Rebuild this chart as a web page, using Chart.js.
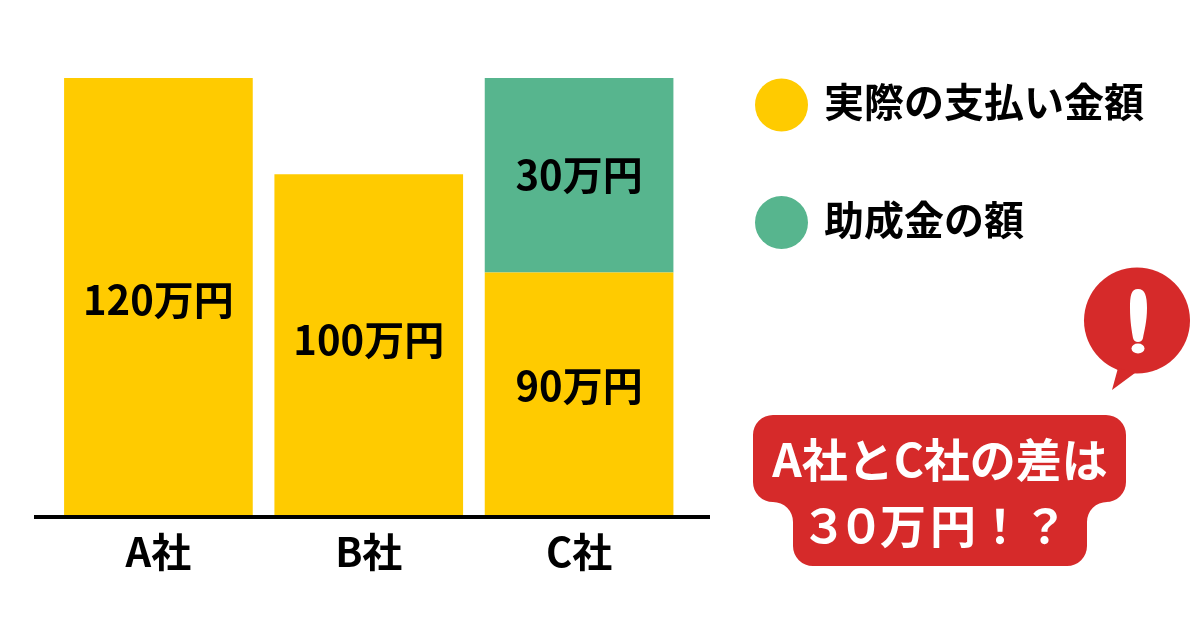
<!DOCTYPE html>
<html><head><meta charset="utf-8">
<style>
html,body{margin:0;padding:0;background:#fff;width:1200px;height:630px;overflow:hidden}
#wrap{position:relative;width:1200px;height:630px}
canvas{position:absolute;left:0;top:0}
</style>
<script src="https://cdn.jsdelivr.net/npm/chart.js@4"></script>
</head><body>
<div id="wrap"><canvas id="c" width="1200" height="630"></canvas></div>
<script>
const categories = ['A社','B社','C社'];
// The reference's bars are not drawn to the scale of their printed labels,
// so bar lengths are read from the picture (A = 120 units) and labels are kept separately.
const paidValues = [120,93.6,66.6];
const grantValues = [null,null,53.4];
const paidLabels = ['120万円','100万円','90万円'];
const grantLabels = ['','','30万円'];
const seriesNames = ['実際の支払い金額','助成金の額'];
const calloutLines = ['A社とC社の差は','３０万円！？'];
const YEL='#FFCB00', GRN='#57B58E', RED='#D62A2A';
const FONT='"Noto Sans CJK JP"';

const barText = {
  id:'barText',
  afterDatasetsDraw(ch){
    const c=ch.ctx; c.save();
    c.font='700 40px '+FONT; c.fillStyle='#000'; c.textAlign='center'; c.textBaseline='middle';
    [paidLabels,grantLabels].forEach((arr,d)=>{
      ch.getDatasetMeta(d).data.forEach((b,i)=>{
        if(!arr[i])return;
        const p=b.getProps(['x','y','base'],true);
        const dy = d===1 ? 0 : (i===0 ? 3 : (i===1 ? -5 : -8));
        c.fillText(arr[i],p.x,(p.y+p.base)/2+dy);
      });
    });
    c.restore();
  }
};
const deco = {
  id:'deco',
  afterDraw(ch){
    const c=ch.ctx; c.save();
    // baseline
    const y0=ch.scales.y.getPixelForValue(0)+2;
    c.strokeStyle='#000'; c.lineWidth=4;
    c.beginPath(); c.moveTo(34,y0); c.lineTo(710,y0); c.stroke();
    // legend
    c.textBaseline='middle'; c.textAlign='left'; c.font='700 40px '+FONT;
    [[YEL,105],[GRN,222.5]].forEach(([col,y],i)=>{
      c.fillStyle=col; c.beginPath(); c.arc(781.5,y,26.5,0,Math.PI*2); c.fill();
      c.fillStyle='#000'; c.fillText(seriesNames[i],824,y-3);
    });
    // balloon
    c.fillStyle=RED;
    c.beginPath(); c.arc(1137,320.5,53,0,Math.PI*2); c.fill();
    c.beginPath(); c.moveTo(1118,368); c.lineTo(1112,390); c.lineTo(1135,373); c.closePath(); c.fill();
    c.fillStyle='#fff';
    c.beginPath();
    c.moveTo(1138,289);
    c.bezierCurveTo(1145,289,1147,296,1147,308);
    c.bezierCurveTo(1147,322,1144,332,1143,338);
    c.quadraticCurveTo(1142,342,1138,342);
    c.quadraticCurveTo(1134,342,1133,338);
    c.bezierCurveTo(1132,332,1130,322,1130,308);
    c.bezierCurveTo(1130,296,1131,289,1138,289);
    c.closePath(); c.fill();
    c.beginPath(); c.ellipse(1138,348.5,6.5,5,0,0,Math.PI*2); c.fill();
    // red label with concave inner corners
    const r=20;
    c.fillStyle=RED;
    c.beginPath();
    c.moveTo(753+r,415); c.lineTo(1126-r,415);
    c.arcTo(1126,415,1126,415+r,r); c.lineTo(1126,502-r);
    c.arcTo(1126,502,1126-r,502,r); c.lineTo(1087+r,502);
    c.arcTo(1087,502,1087,502+r,r); c.lineTo(1087,566-r);
    c.arcTo(1087,566,1087-r,566,r); c.lineTo(793+r,566);
    c.arcTo(793,566,793,566-r,r); c.lineTo(793,502+r);
    c.arcTo(793,502,793-r,502,r); c.lineTo(753+r,502);
    c.arcTo(753,502,753,502-r,r); c.lineTo(753,415+r);
    c.arcTo(753,415,753+r,415,r);
    c.closePath(); c.fill();
    c.fillStyle='#fff'; c.textAlign='center'; c.font='700 46px '+FONT;
    c.fillText(calloutLines[0],940,460);
    // second line: glyphs are tightly and unevenly set in the reference
    const cx=[824,861,903,953,1000,1045];
    Array.from(calloutLines[1]).forEach((g,i)=>c.fillText(g,cx[i],526));
    c.restore();
  }
};
new Chart(document.getElementById('c'),{
  type:'bar',
  data:{labels:categories,datasets:[
    {label:seriesNames[0],data:paidValues,backgroundColor:YEL,stack:'s',barPercentage:1,categoryPercentage:0.897},
    {label:seriesNames[1],data:grantValues,backgroundColor:GRN,stack:'s',barPercentage:1,categoryPercentage:0.897}
  ]},
  plugins:[barText,deco],
  options:{
    responsive:false,animation:false,
    layout:{padding:{left:53.25,right:515.75,top:78,bottom:41}},
    plugins:{legend:{display:false},tooltip:{enabled:false}},
    scales:{
      x:{stacked:true,
        border:{display:false},
        grid:{display:false,drawTicks:false},
        ticks:{color:'#000',font:{family:FONT,size:40,weight:'700'},padding:13,maxRotation:0,autoSkip:false}},
      y:{stacked:true,display:false,min:0,max:120}
    }
  },
});
</script>
</body></html>
